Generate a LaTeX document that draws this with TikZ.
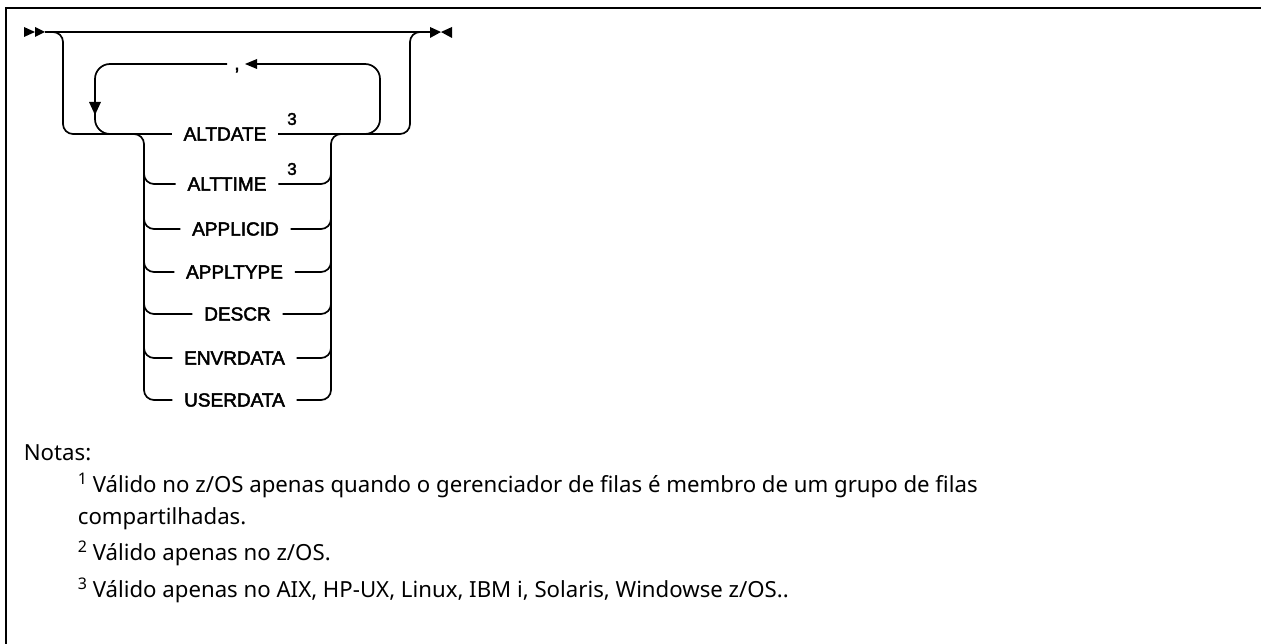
\documentclass[tikz,border=0pt]{standalone}
\usepackage{fontspec}
\setmainfont{Liberation Sans}
\newfontfamily\kwfont[FakeBold=2.4]{Liberation Sans}
\newfontfamily\notefont{Noto Sans}
\usetikzlibrary{arrows.meta}
\begin{document}
\begin{tikzpicture}[x=1pt,y=-1pt,line width=1.7pt,
  rc/.style={rounded corners=10pt},
  rcl/.style={rounded corners=15pt},
  kw/.style={font=\kwfont\fontsize{19}{19}\selectfont, inner ysep=0pt, inner xsep=11pt, anchor=center},
  sup/.style={font=\kwfont\fontsize{17}{17}\selectfont, inner sep=0pt},
  note/.style={font=\notefont\fontsize{22.2}{23}\selectfont, inner sep=0pt, anchor=base west},
  tip/.style={fill=black, draw=none}]
\useasboundingbox (0,0) rectangle (1261,644);
\fill[white] (0,0) rectangle (1261,644);
% frame
\draw[line width=2.5pt] (6,644) -- (6,8) -- (1261,8);

% markers
\coordinate (s) at (45,32);
\coordinate (e) at (430,32);
\fill[tip] (24,27) -- (35,32) -- (24,37) -- cycle;
\fill[tip] (35,27) -- (45,32) -- (35,37) -- cycle;
\fill[tip] (430,27) -- (441,32) -- (430,38) -- cycle;
\fill[tip] (452,27) -- (441,32) -- (452,38) -- cycle;
\draw (s) -- (e);

% keywords
\node[kw] (altdate) at (225,134) {ALTDATE};
\node[kw] (alttime) at (227,184) {ALTTIME};
\node[kw] (applicid) at (235.5,229) {APPLICID};
\node[kw] (appltype) at (234.5,272) {APPLTYPE};
\node[kw] (descr) at (237.5,314) {DESCR};
\node[kw] (envrdata) at (234.5,358) {ENVRDATA};
\node[kw] (userdata) at (234.5,400) {USERDATA};
\node[sup] (n1) at (292,119) {3};
\node[sup] (n2) at (292,169) {3};

% outer bypass
\draw[rc] (50,32) -| (63,134) -- (altdate.west);
\draw[rc] (altdate.east) -- (410,134) |- (425,32);

% repeat loop
\coordinate (lb) at (257,64);
\node[font=\kwfont\fontsize{19}{19}\selectfont, inner sep=0pt, anchor=base] (comma) at (237,70) {,};
\draw[rcl] (350,134) -| (380,64) -- (lb);
\fill[tip] (257,59) -- (245,64) -- (257,69) -- cycle;
\draw[rcl] (227,64) -| (95,134) -- (125,134);
\fill[tip] (89,102) -- (95,115) -- (101,102) -- cycle;

% choice
\draw[rc] (125,134) -| (144,400) -- (userdata.west);
\draw[rc] (userdata.east) -| (331,134) -- (350,134);
\foreach \n/\y in {alttime/184,applicid/229,appltype/272,descr/314,envrdata/358} {
  \draw[rc] (144,\y-15) |- (\n.west);
  \draw[rc] (\n.east) -| (331,\y-15);
}

% notes
\node[note] (notas) at (23,460) {Notas:};
\newcommand\supnum[1]{\raisebox{0.6ex}{\fontsize{16}{16}\selectfont #1}}
\node[note] (l1) at (77,492) {\supnum{1} Válido no z/OS apenas quando o gerenciador de filas é membro de um grupo de filas};
\node[note] (l1b) at (77,524) {compartilhadas.};
\node[note] (l2) at (77,560) {\supnum{2} Válido apenas no z/OS.};
\node[note] (l3) at (77,597) {\supnum{3} Válido apenas no AIX, HP-UX, Linux, IBM i, Solaris, Windowse z/OS..};
\end{tikzpicture}
\end{document}
